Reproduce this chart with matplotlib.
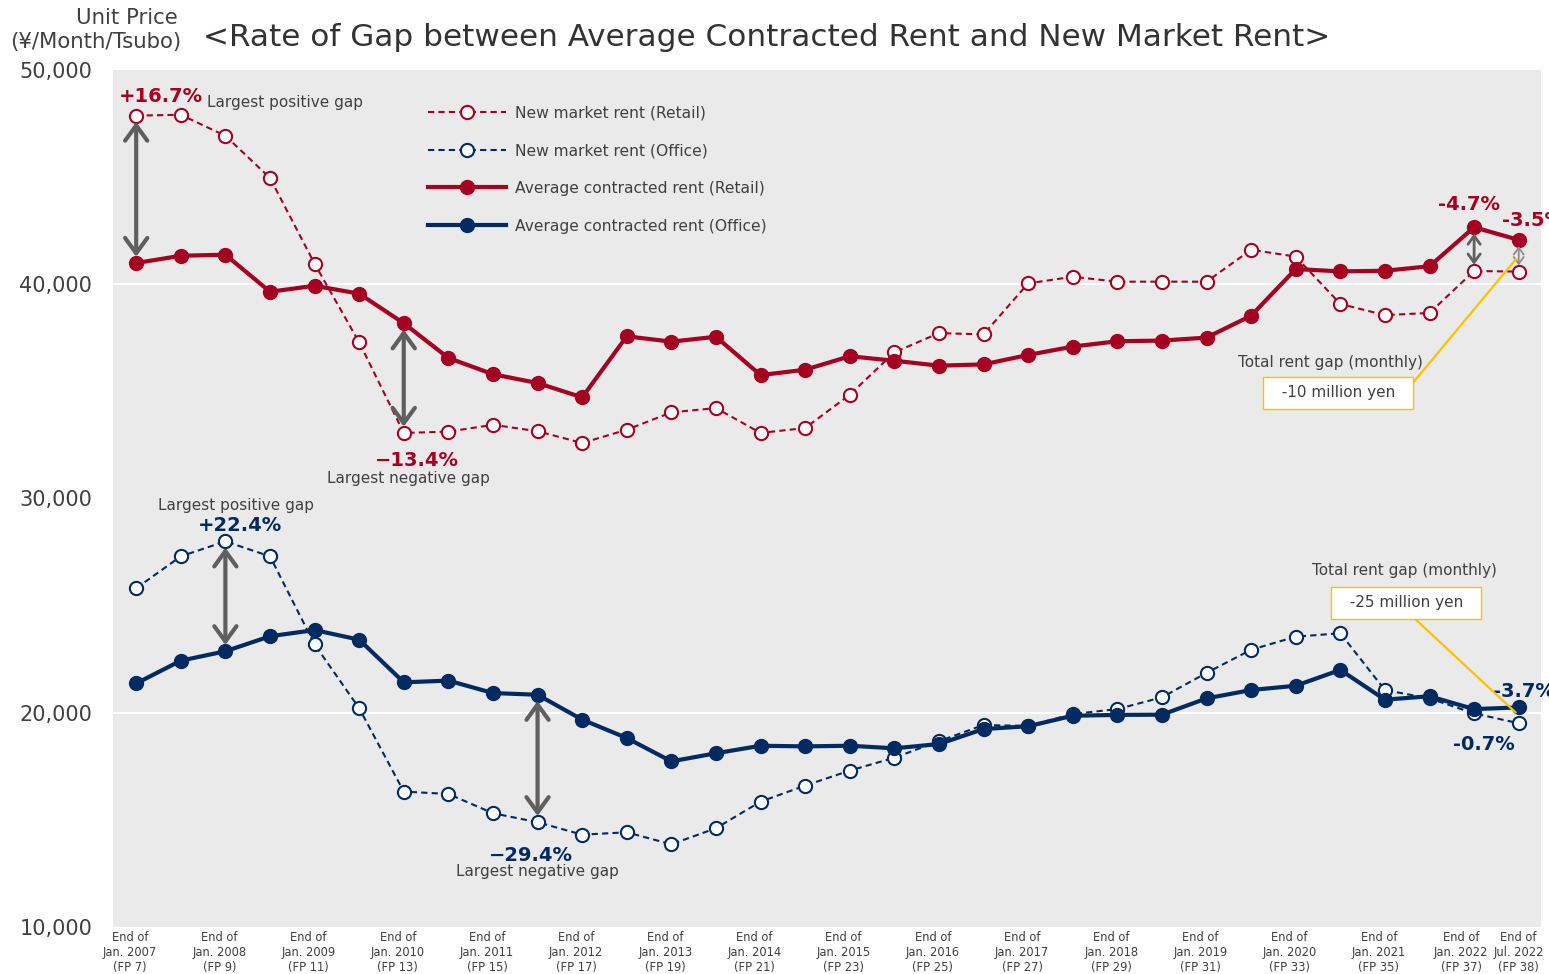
#!/usr/bin/env python3
"""
Gap between average contracted rent and new market rent
"""
import matplotlib.pyplot as plt
from matplotlib.transforms import ScaledTranslation

# Fiscal periods FP 7 .. FP 38 (one point each)
periods = ["FP 7", "FP 8", "FP 9", "FP 10", "FP 11", "FP 12", "FP 13", "FP 14",
           "FP 15", "FP 16", "FP 17", "FP 18", "FP 19", "FP 20", "FP 21", "FP 22",
           "FP 23", "FP 24", "FP 25", "FP 26", "FP 27", "FP 28", "FP 29", "FP 30",
           "FP 31", "FP 32", "FP 33", "FP 34", "FP 35", "FP 36", "FP 37", "FP 38"]

retail_new = [47870, 47910, 46930, 44960, 40960, 37290, 33060, 33120, 33440, 33140,
              32590, 33210, 34020, 34220, 33060, 33290, 34840, 36820, 37720, 37660,
              40040, 40350, 40120, 40120, 40120, 41610, 41290, 39080, 38560, 38660,
              40620, 40590]
retail_avg = [40990, 41330, 41380, 39650, 39930, 39560, 38180, 36560, 35800, 35390,
              34720, 37570, 37320, 37550, 35760, 36010, 36640, 36430, 36200, 36260,
              36700, 37090, 37340, 37370, 37510, 38530, 40710, 40600, 40630, 40840,
              42660, 42070]
office_new = [25810, 27300, 28000, 27300, 23190, 20210, 16320, 16210, 15310, 14890,
              14310, 14420, 13860, 14610, 15850, 16600, 17300, 17900, 18670, 19430,
              19380, 19940, 20170, 20720, 21860, 22940, 23550, 23710, 21060, 20670,
              19970, 19510]
office_avg = [21370, 22430, 22870, 23570, 23860, 23410, 21420, 21500, 20920, 20840,
              19680, 18820, 17730, 18110, 18460, 18430, 18460, 18340, 18540, 19240,
              19370, 19860, 19900, 19910, 20670, 21060, 21260, 22000, 20610, 20770,
              20170, 20250]

tick_periods = ["FP 7", "FP 9", "FP 11", "FP 13", "FP 15", "FP 17", "FP 19", "FP 21",
                "FP 23", "FP 25", "FP 27", "FP 29", "FP 31", "FP 33", "FP 35", "FP 37",
                "FP 38"]
tick_dates = ["Jan. 2007", "Jan. 2008", "Jan. 2009", "Jan. 2010", "Jan. 2011",
              "Jan. 2012", "Jan. 2013", "Jan. 2014", "Jan. 2015", "Jan. 2016",
              "Jan. 2017", "Jan. 2018", "Jan. 2019", "Jan. 2020", "Jan. 2021",
              "Jan. 2022", "Jul. 2022"]
y_ticks = [10000, 20000, 30000, 40000, 50000]

RED = "#A50021"
NAVY = "#002B62"
GREY_TXT = "#404040"
ARROW = "#5F5F5F"
YELLOW = "#FFC000"

W, H = 1549, 974


def main():
    fig = plt.figure(figsize=(W / 100, H / 100), dpi=100)
    ax = fig.add_axes([113 / W, 47 / H, 1428 / W, 857 / H])
    ax.set_facecolor("#EAEAEA")
    for s in ax.spines.values():
        s.set_visible(False)

    x = list(range(len(periods)))

    ax.axhline(20000, color="white", lw=1.5, zorder=1)
    ax.axhline(40000, color="white", lw=1.5, zorder=1)

    dash = (0, (3, 2))
    ax.plot(x, retail_new, color=RED, lw=1.5, ls=dash, marker="o", ms=9.5,
            mfc="white", mec=RED, mew=1.5, label="New market rent (Retail)", zorder=3)
    ax.plot(x, office_new, color=NAVY, lw=1.5, ls=dash, marker="o", ms=9.5,
            mfc="white", mec=NAVY, mew=1.5, label="New market rent (Office)", zorder=3)
    ax.plot(x, retail_avg, color=RED, lw=3, marker="o", ms=10, mfc=RED, mec=RED,
            label="Average contracted rent (Retail)", zorder=4)
    ax.plot(x, office_avg, color=NAVY, lw=3, marker="o", ms=10, mfc=NAVY, mec=NAVY,
            label="Average contracted rent (Office)", zorder=4)

    ax.set_xlim(-0.52, 31.5)
    ax.set_ylim(10000, 50000)

    ax.set_yticks(y_ticks)
    ax.set_yticklabels(["{:,}".format(v) for v in y_ticks])
    ax.tick_params(axis="y", length=0, pad=15, labelsize=15, labelcolor=GREY_TXT)

    ax.set_xticks([periods.index(p) for p in tick_periods])
    ax.set_xticklabels(["End of\n{}\n({})".format(d, p)
                        for d, p in zip(tick_dates, tick_periods)],
                       fontsize=8.3, linespacing=1.2, color=GREY_TXT)
    ax.tick_params(axis="x", length=0, pad=3)
    # labels sit a little left of their points, as in the original
    xlabels = ax.get_xticklabels()
    for n, lab in enumerate(xlabels):
        if n == len(xlabels) - 1:
            dx = 0
        elif n == len(xlabels) - 2:
            dx = -13
        else:
            dx = -6
        lab.set_transform(lab.get_transform() +
                          ScaledTranslation(dx / 100, 0, fig.dpi_scale_trans))

    leg = ax.legend(loc="upper left", bbox_to_anchor=(0.2206, 0.959),
                    frameon=False, fontsize=11.2, handlelength=5.0,
                    handletextpad=0.6, labelspacing=1.47, borderpad=0,
                    borderaxespad=0, numpoints=1)
    for t in leg.get_texts():
        t.set_color(GREY_TXT)

    # titles
    fig.text(203 / W, 1 - 38 / H,
             "<Rate of Gap between Average Contracted Rent and New Market Rent>",
             ha="left", va="center", fontsize=22.4, color="#333333")
    fig.text(127 / W, 1 - 18 / H, "Unit Price", ha="center", va="center",
             fontsize=15.3, color=GREY_TXT)
    fig.text(96 / W, 1 - 42 / H, "(¥/Month/Tsubo)", ha="center", va="center",
             fontsize=15.3, color=GREY_TXT)

    # gap arrows
    def gap_arrow(i, a, b, lw=3, scale=20, color=ARROW):
        ax.annotate("", xy=(i, a[i]), xytext=(i, b[i]),
                    arrowprops=dict(arrowstyle="<->,head_length=0.55,head_width=0.4",
                                    lw=lw, color=color, shrinkA=4.5, shrinkB=4.5,
                                    mutation_scale=scale), zorder=5)

    gap_arrow(0, retail_new, retail_avg)
    gap_arrow(6, retail_new, retail_avg)
    gap_arrow(2, office_new, office_avg)
    gap_arrow(9, office_new, office_avg)
    gap_arrow(30, retail_new, retail_avg, lw=2, scale=11)
    gap_arrow(31, retail_new, retail_avg, lw=1.3, scale=9, color="#8C8C8C")

    def label(txt, i, series, dx, dy, color=GREY_TXT, size=11, bold=False, ha="center"):
        ax.annotate(txt, xy=(i, series[i]), xytext=(dx, dy),
                    textcoords="offset pixels", ha=ha, va="center", color=color,
                    fontsize=size, fontweight="bold" if bold else "normal", zorder=6)

    # retail labels
    label("+16.7%", 0, retail_new, 25, 19, RED, 14, True)
    label("Largest positive gap", 0, retail_new, 71, 13, ha="left")
    label("\u221213.4%", 6, retail_new, 13, -28, RED, 14, True)
    label("Largest negative gap", 6, retail_new, 5, -46)
    label("-4.7%", 30, retail_avg, -5, 23, RED, 14, True)
    label("-3.5%", 31, retail_avg, -17, 19, RED, 14, True, ha="left")

    # office labels
    label("Largest positive gap", 2, office_new, 11, 36)
    label("+22.4%", 2, office_new, 15, 16, NAVY, 14, True)
    label("\u221229.4%", 9, office_new, -7, -33, NAVY, 14, True)
    label("Largest negative gap", 9, office_new, 0, -49)
    label("-3.7%", 31, office_avg, -26, 16, NAVY, 14, True, ha="left")
    label("-0.7%", 31, office_new, -35, -21, NAVY, 14, True)

    # total rent gap boxes
    fig.text(1330 / W, 1 - 363 / H, "Total rent gap (monthly)", ha="center",
             va="center", fontsize=11, color=GREY_TXT)
    fig.text(1404 / W, 1 - 571 / H, "Total rent gap (monthly)", ha="center",
             va="center", fontsize=11, color=GREY_TXT)

    box = dict(boxstyle="square,pad=0.55", fc="white", ec=YELLOW, lw=1)
    ax.annotate("  -10 million yen  ",
                xy=(31, (retail_avg[31] + retail_new[31]) / 2),
                xytext=(1338, H - 393), textcoords="figure pixels",
                ha="center", va="center", fontsize=11, color=GREY_TXT, bbox=box,
                arrowprops=dict(arrowstyle="-", color=YELLOW, lw=1.6,
                                relpos=(1, 0.5), shrinkA=0, shrinkB=3), zorder=7)
    ax.annotate("  -25 million yen  ",
                xy=(31, (office_avg[31] + office_new[31]) / 2),
                xytext=(1406, H - 603), textcoords="figure pixels",
                ha="center", va="center", fontsize=11, color=GREY_TXT, bbox=box,
                arrowprops=dict(arrowstyle="-", color=YELLOW, lw=1.6,
                                relpos=(0.5, 0), shrinkA=0, shrinkB=3), zorder=7)

    fig.savefig("out.png", dpi=100)


if __name__ == "__main__":
    main()
